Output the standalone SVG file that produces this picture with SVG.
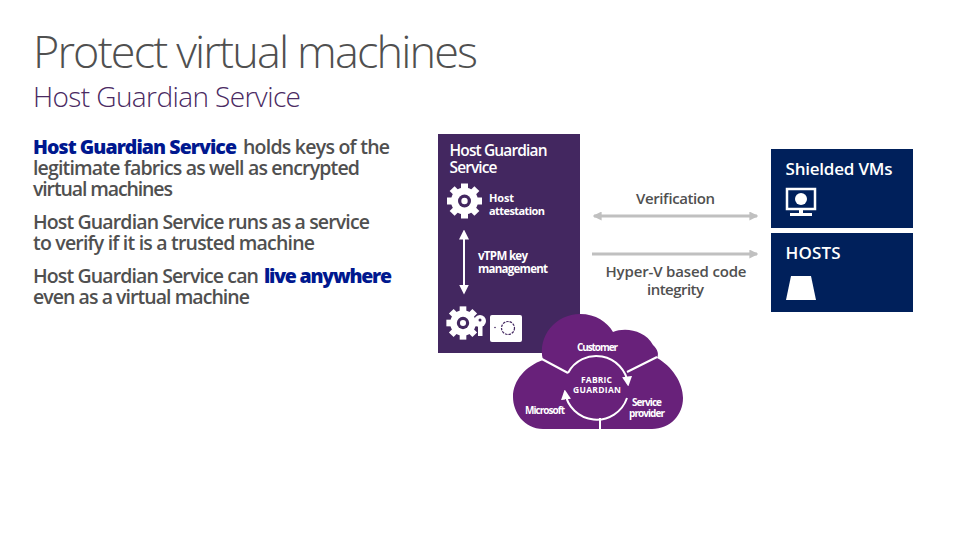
<svg xmlns="http://www.w3.org/2000/svg" xmlns:xlink="http://www.w3.org/1999/xlink" width="960" height="540" viewBox="0 0 960 540">
<style>
text{font-family:"Open Sans","Noto Sans","Liberation Sans",sans-serif}
.title{font-size:45px;font-weight:300;fill:#505050}
.sub{font-size:28px;font-weight:300;fill:#4a2a62}
.body{font-size:19.5px;font-weight:600;fill:#505050}
.em{font-size:19.5px;font-weight:800;fill:#00188f}
.w{fill:#fff;font-weight:600}
.s{fill:#fff;font-weight:700}
.g{font-size:15px;font-weight:600;fill:#505050;text-anchor:middle}
.conn{fill:none;stroke:#c0c0c0;stroke-width:3}
.wl{fill:none;stroke:#fff;stroke-width:2}
.box{fill:#00205b}
.cloud{fill:#68217a}
</style>
<defs>
<marker id="ga" viewBox="0 0 4 4" markerWidth="3" markerHeight="3" refX="3.4" refY="2" orient="auto-start-reverse" markerUnits="strokeWidth"><path d="M0 0L4 2L0 4Z" fill="#c0c0c0"/></marker>
<marker id="wa" viewBox="0 0 4 4" markerWidth="5" markerHeight="5" refX="3" refY="2" orient="auto-start-reverse" markerUnits="strokeWidth"><path d="M0 0L4 2L0 4Z" fill="#fff"/></marker>
<g id="gear">
<circle r="13.500" fill="#fff"/>
<g fill="#fff"><rect x="-3.500" y="-17.500" width="7" height="35"/><rect x="-3.500" y="-17.500" width="7" height="35" transform="rotate(45)"/><rect x="-3.500" y="-17.500" width="7" height="35" transform="rotate(90)"/><rect x="-3.500" y="-17.500" width="7" height="35" transform="rotate(135)"/></g>
<circle r="6.500" fill="#432760"/><circle r="3.200" fill="#fff"/>
</g>
</defs>
<g id="heading">
<text class="title" x="33" y="68" textLength="445">Protect virtual machines</text>
<text class="sub" x="33" y="107" textLength="268">Host Guardian Service</text>
</g>
<g id="bullets">
<text class="em" x="33" y="154" textLength="204">Host Guardian Service</text>
<text class="body" x="243" y="154" textLength="147">holds keys of the</text>
<text class="body" x="33" y="175" textLength="327">legitimate fabrics as well as encrypted</text>
<text class="body" x="33" y="196" textLength="140">virtual machines</text>
<text class="body" x="33" y="229" textLength="337">Host Guardian Service runs as a service</text>
<text class="body" x="33" y="250" textLength="282">to verify if it is a trusted machine</text>
<text class="body" x="33" y="283" textLength="226">Host Guardian Service can</text>
<text class="em" x="264" y="283" textLength="128">live anywhere</text>
<text class="body" x="33" y="304" textLength="217">even as a virtual machine</text>
</g>
<g id="hgs-panel">
<rect x="438" y="134" width="142" height="219" fill="#432760"/>
<text class="w" font-size="15.500" x="449.500" y="156" textLength="98">Host Guardian</text>
<text class="w" font-size="15.500" x="449.500" y="173" textLength="48">Service</text>
<use xlink:href="#gear" href="#gear" x="464.500" y="201"/>
<text class="s" font-size="11" x="489" y="202" textLength="25">Host</text>
<text class="s" font-size="11" x="489" y="214.500" textLength="56">attestation</text>
<text class="s" font-size="11.500" x="478" y="260" textLength="50">vTPM key</text>
<text class="s" font-size="11.500" x="478" y="272.500" textLength="70">management</text>
<use xlink:href="#gear" href="#gear" transform="translate(463 323) scale(.95)"/>
<circle cx="480" cy="321" r="6" fill="#fff"/><rect x="478" y="321" width="4.500" height="15" fill="#fff"/>
<circle cx="480" cy="320" r="1.500" fill="#432760"/>
<rect x="490" y="315" width="32" height="27" rx="2" fill="#fff"/>
<circle cx="508" cy="328" r="6.500" fill="none" stroke="#432760" stroke-width="1.200" stroke-dasharray="2.500 1"/>
<circle cx="495" cy="327.500" r=".8" fill="#432760"/>
</g>
<g id="connectors">
<path class="conn" d="M594 216H757" marker-start="url(#ga)" marker-end="url(#ga)"/>
<path class="conn" d="M592 254H757" marker-end="url(#ga)"/>
<path d="M464 232V292" fill="none" stroke="#fff" stroke-width="2" marker-start="url(#wa)" marker-end="url(#wa)"/>
</g>
<g id="verification"><text class="g" x="675.500" y="204" textLength="79">Verification</text></g>
<g id="code-integrity">
<text class="g" x="676" y="277" textLength="141">Hyper-V based code</text>
<text class="g" x="675.500" y="295" textLength="57">integrity</text>
</g>
<g id="shielded-vms">
<rect class="box" x="771" y="149" width="142" height="79"/>
<text class="w" font-size="17" x="785.500" y="175" textLength="107">Shielded VMs</text>
<rect x="787" y="189" width="28" height="20" fill="none" stroke="#fff" stroke-width="2.500"/>
<circle cx="801" cy="199" r="6" fill="#fff"/>
<rect x="799" y="209" width="4" height="4" fill="#fff"/><rect x="790" y="213" width="22" height="3" fill="#fff"/>
</g>
<g id="hosts">
<rect class="box" x="771" y="233" width="142" height="79"/>
<text class="w" font-size="17" x="785.500" y="259" textLength="55">HOSTS</text>
<path d="M791 276H811L816 300H786Z" fill="#fff"/>
</g>
<g id="fabric-guardian">
<path class="cloud" d="M543 429C524 429 513 412 513 397C513 380 526 366 543 360C537 336 556 314 580 314C596 314 607 322 613 332C625 327 645 330 653 345C658 350 659 354 657 358C672 366 683 383 683 398C683 415 670 429 652 429Z"/>
<path class="wl" d="M540 358L568 373M627 372L657 357M600 418V429"/>
<path class="wl" d="M568 373A32 32 0 0 1 628 384" marker-end="url(#wa)"/>
<path class="wl" d="M627 398A32 32 0 0 1 565 392" marker-end="url(#wa)"/>
<text class="s" font-size="10" x="577" y="350.500" textLength="41">Customer</text>
<text class="s" font-size="8.500" x="581" y="383" textLength="31">FABRIC</text>
<text class="s" font-size="8.500" x="573" y="392.500" textLength="48">GUARDIAN</text>
<text class="s" font-size="10" x="525" y="414" textLength="40">Microsoft</text>
<text class="s" font-size="10" x="632" y="406" textLength="30">Service</text>
<text class="s" font-size="10" x="629" y="417" textLength="36">provider</text>
</g>
</svg>
